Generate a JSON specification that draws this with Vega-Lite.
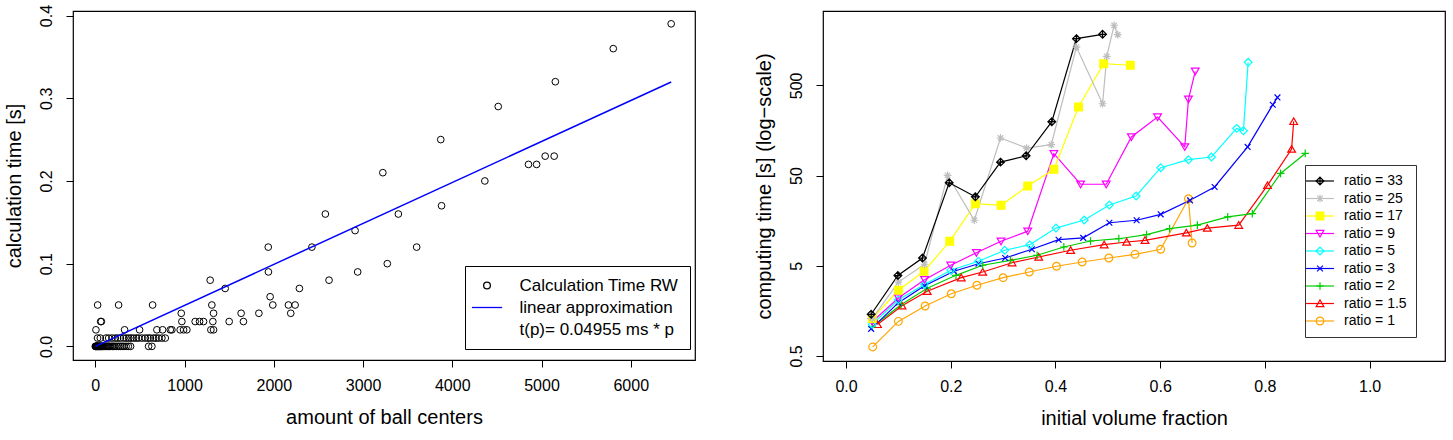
{
  "$schema": "https://vega.github.io/schema/vega-lite/v6.json",
  "padding": {"left": 3, "top": 3, "right": 9, "bottom": 0},
  "background": "white",
  "bounds": "flush",
  "spacing": 128,
  "config": {
    "font": "Liberation Sans",
    "view": {"stroke": "#000", "strokeWidth": 1.2},
    "axis": {"domain": false, "grid": false, "ticks": true, "tickColor": "#000", "tickSize": 7, "tickWidth": 1,
      "labelFont": "Liberation Sans", "labelFontSize": 16, "labelColor": "#000",
      "titleFont": "Liberation Sans", "titleFontSize": 20, "titleFontWeight": "normal", "titleColor": "#000",
      "labelPadding": 10, "titlePadding": 14},
    "axisY": {"labelAngle": 270, "labelPadding": 12},
    "legend": {"labelFont": "Liberation Sans"}
  },
  "datasets": {
    "calc": [
      {"p":0,"t":0},{"p":4,"t":0},{"p":8,"t":0},{"p":12,"t":0},{"p":16,"t":0},{"p":20,"t":0},{"p":25,"t":0},{"p":30,"t":0},{"p":35,"t":0},{"p":40,"t":0},{"p":45,"t":0},{"p":50,"t":0},{"p":55,"t":0},{"p":60,"t":0},{"p":65,"t":0},{"p":70,"t":0},{"p":80,"t":0},{"p":90,"t":0},{"p":100,"t":0},{"p":110,"t":0},{"p":120,"t":0},{"p":130,"t":0},{"p":140,"t":0},{"p":150,"t":0},{"p":160,"t":0},{"p":175,"t":0},{"p":190,"t":0},{"p":205,"t":0},{"p":220,"t":0},{"p":240,"t":0},{"p":260,"t":0},{"p":280,"t":0},{"p":300,"t":0},{"p":320,"t":0},{"p":345,"t":0},{"p":370,"t":0},{"p":395,"t":0},{"p":597,"t":0},{"p":634,"t":0},
      {"p":25,"t":0.01},{"p":56,"t":0.01},{"p":120,"t":0.01},{"p":150,"t":0.01},{"p":187,"t":0.01},{"p":224,"t":0.01},{"p":250,"t":0.01},{"p":280,"t":0.01},{"p":317,"t":0.01},{"p":345,"t":0.01},{"p":373,"t":0.01},{"p":400,"t":0.01},{"p":429,"t":0.01},{"p":460,"t":0.01},{"p":485,"t":0.01},{"p":522,"t":0.01},{"p":560,"t":0.01},{"p":590,"t":0.01},{"p":616,"t":0.01},{"p":653,"t":0.01},{"p":680,"t":0.01},{"p":709,"t":0.01},{"p":746,"t":0.01},{"p":784,"t":0.01},
      {"p":7,"t":0.02},{"p":328,"t":0.02},{"p":496,"t":0.02},{"p":690,"t":0.02},{"p":754,"t":0.02},{"p":840,"t":0.02},{"p":858,"t":0.02},{"p":951,"t":0.02},{"p":989,"t":0.02},{"p":1026,"t":0.02},{"p":1295,"t":0.02},{"p":1325,"t":0.02},
      {"p":60,"t":0.03},{"p":68,"t":0.03},{"p":970,"t":0.03},{"p":1119,"t":0.03},{"p":1168,"t":0.03},{"p":1213,"t":0.03},{"p":1317,"t":0.03},{"p":1500,"t":0.03},{"p":1660,"t":0.03},
      {"p":963,"t":0.04},{"p":1325,"t":0.04},{"p":1634,"t":0.04},{"p":1833,"t":0.04},{"p":2190,"t":0.04},
      {"p":26,"t":0.05},{"p":261,"t":0.05},{"p":642,"t":0.05},{"p":1306,"t":0.05},{"p":1989,"t":0.05},{"p":2164,"t":0.05},{"p":2239,"t":0.05},
      {"p":1959,"t":0.06},{"p":1455,"t":0.07},{"p":2287,"t":0.07},{"p":1287,"t":0.08},{"p":2619,"t":0.08},{"p":1940,"t":0.09},{"p":2940,"t":0.09},{"p":3272,"t":0.10},
      {"p":1938,"t":0.12},{"p":2427,"t":0.12},{"p":3601,"t":0.12},{"p":2911,"t":0.14},{"p":2578,"t":0.16},{"p":3396,"t":0.16},{"p":3880,"t":0.17},{"p":4365,"t":0.20},{"p":3222,"t":0.21},
      {"p":4854,"t":0.22},{"p":4945,"t":0.22},{"p":5041,"t":0.23},{"p":5142,"t":0.23},{"p":3871,"t":0.25},{"p":4515,"t":0.29},{"p":5155,"t":0.32},{"p":5804,"t":0.36},{"p":6453,"t":0.39}
    ],
    "fit": [{"p":0,"t":0},{"p":6453,"t":0.3197}],
    "comp": [
      {"ratio":"ratio = 1","f":0.051,"t":0.63},{"ratio":"ratio = 1","f":0.100,"t":1.21},{"ratio":"ratio = 1","f":0.151,"t":1.79},{"ratio":"ratio = 1","f":0.201,"t":2.45},{"ratio":"ratio = 1","f":0.250,"t":3.04},{"ratio":"ratio = 1","f":0.300,"t":3.69},{"ratio":"ratio = 1","f":0.350,"t":4.27},{"ratio":"ratio = 1","f":0.402,"t":4.94},{"ratio":"ratio = 1","f":0.451,"t":5.51},{"ratio":"ratio = 1","f":0.502,"t":6.10},{"ratio":"ratio = 1","f":0.552,"t":6.70},{"ratio":"ratio = 1","f":0.601,"t":7.62},{"ratio":"ratio = 1","f":0.654,"t":27.7},{"ratio":"ratio = 1","f":0.661,"t":8.95},
      {"ratio":"ratio = 1.5","f":0.060,"t":1.12},{"ratio":"ratio = 1.5","f":0.107,"t":1.80},{"ratio":"ratio = 1.5","f":0.155,"t":2.61},{"ratio":"ratio = 1.5","f":0.220,"t":3.69},{"ratio":"ratio = 1.5","f":0.261,"t":4.27},{"ratio":"ratio = 1.5","f":0.317,"t":5.41},{"ratio":"ratio = 1.5","f":0.368,"t":6.26},{"ratio":"ratio = 1.5","f":0.429,"t":7.43},{"ratio":"ratio = 1.5","f":0.493,"t":8.57},{"ratio":"ratio = 1.5","f":0.536,"t":9.18},{"ratio":"ratio = 1.5","f":0.571,"t":9.59},{"ratio":"ratio = 1.5","f":0.650,"t":11.6},{"ratio":"ratio = 1.5","f":0.690,"t":13.1},{"ratio":"ratio = 1.5","f":0.750,"t":14.1},{"ratio":"ratio = 1.5","f":0.805,"t":39.0},{"ratio":"ratio = 1.5","f":0.851,"t":98.4},{"ratio":"ratio = 1.5","f":0.855,"t":199.5},
      {"ratio":"ratio = 2","f":0.050,"t":1.05},{"ratio":"ratio = 2","f":0.105,"t":1.85},{"ratio":"ratio = 2","f":0.155,"t":2.82},{"ratio":"ratio = 2","f":0.210,"t":3.92},{"ratio":"ratio = 2","f":0.261,"t":5.07},{"ratio":"ratio = 2","f":0.314,"t":5.75},{"ratio":"ratio = 2","f":0.365,"t":6.54},{"ratio":"ratio = 2","f":0.416,"t":8.08},{"ratio":"ratio = 2","f":0.467,"t":9.41},{"ratio":"ratio = 2","f":0.521,"t":9.98},{"ratio":"ratio = 2","f":0.574,"t":11.1},{"ratio":"ratio = 2","f":0.618,"t":12.9},{"ratio":"ratio = 2","f":0.671,"t":14.1},{"ratio":"ratio = 2","f":0.729,"t":17.4},{"ratio":"ratio = 2","f":0.776,"t":18.9},{"ratio":"ratio = 2","f":0.830,"t":52.8},{"ratio":"ratio = 2","f":0.877,"t":88},
      {"ratio":"ratio = 3","f":0.048,"t":1.00},{"ratio":"ratio = 3","f":0.100,"t":1.95},{"ratio":"ratio = 3","f":0.150,"t":3.00},{"ratio":"ratio = 3","f":0.206,"t":4.35},{"ratio":"ratio = 3","f":0.253,"t":5.27},{"ratio":"ratio = 3","f":0.304,"t":6.10},{"ratio":"ratio = 3","f":0.355,"t":7.62},{"ratio":"ratio = 3","f":0.406,"t":9.73},{"ratio":"ratio = 3","f":0.453,"t":10.2},{"ratio":"ratio = 3","f":0.503,"t":15.0},{"ratio":"ratio = 3","f":0.555,"t":16.0},{"ratio":"ratio = 3","f":0.601,"t":18.6},{"ratio":"ratio = 3","f":0.657,"t":26.6},{"ratio":"ratio = 3","f":0.704,"t":37.4},{"ratio":"ratio = 3","f":0.767,"t":104},{"ratio":"ratio = 3","f":0.815,"t":305},{"ratio":"ratio = 3","f":0.824,"t":368},
      {"ratio":"ratio = 5","f":0.050,"t":1.12},{"ratio":"ratio = 5","f":0.100,"t":2.1},{"ratio":"ratio = 5","f":0.150,"t":3.1},{"ratio":"ratio = 5","f":0.200,"t":4.47},{"ratio":"ratio = 5","f":0.253,"t":5.61},{"ratio":"ratio = 5","f":0.303,"t":7.43},{"ratio":"ratio = 5","f":0.351,"t":8.57},{"ratio":"ratio = 5","f":0.401,"t":13.1},{"ratio":"ratio = 5","f":0.455,"t":16.1},{"ratio":"ratio = 5","f":0.503,"t":23.6},{"ratio":"ratio = 5","f":0.554,"t":29.7},{"ratio":"ratio = 5","f":0.601,"t":61.2},{"ratio":"ratio = 5","f":0.654,"t":75},{"ratio":"ratio = 5","f":0.698,"t":80.4},{"ratio":"ratio = 5","f":0.746,"t":167},{"ratio":"ratio = 5","f":0.759,"t":157},{"ratio":"ratio = 5","f":0.768,"t":901},
      {"ratio":"ratio = 9","f":0.050,"t":1.2},{"ratio":"ratio = 9","f":0.100,"t":2.20},{"ratio":"ratio = 9","f":0.150,"t":3.51},{"ratio":"ratio = 9","f":0.200,"t":5.07},{"ratio":"ratio = 9","f":0.249,"t":6.98},{"ratio":"ratio = 9","f":0.296,"t":9.35},{"ratio":"ratio = 9","f":0.347,"t":12.1},{"ratio":"ratio = 9","f":0.397,"t":87.5},{"ratio":"ratio = 9","f":0.448,"t":40.1},{"ratio":"ratio = 9","f":0.497,"t":40.1},{"ratio":"ratio = 9","f":0.545,"t":134},{"ratio":"ratio = 9","f":0.595,"t":223},{"ratio":"ratio = 9","f":0.647,"t":104},{"ratio":"ratio = 9","f":0.654,"t":351},{"ratio":"ratio = 9","f":0.667,"t":717},
      {"ratio":"ratio = 17","f":0.050,"t":1.3},{"ratio":"ratio = 17","f":0.100,"t":2.68},{"ratio":"ratio = 17","f":0.149,"t":4.35},{"ratio":"ratio = 17","f":0.198,"t":9.35},{"ratio":"ratio = 17","f":0.247,"t":24.4},{"ratio":"ratio = 17","f":0.296,"t":23.4},{"ratio":"ratio = 17","f":0.347,"t":38.3},{"ratio":"ratio = 17","f":0.397,"t":58.7},{"ratio":"ratio = 17","f":0.444,"t":288},{"ratio":"ratio = 17","f":0.492,"t":870},{"ratio":"ratio = 17","f":0.543,"t":836},
      {"ratio":"ratio = 25","f":0.050,"t":1.3},{"ratio":"ratio = 25","f":0.100,"t":3.3},{"ratio":"ratio = 25","f":0.150,"t":5.2},{"ratio":"ratio = 25","f":0.194,"t":50.4},{"ratio":"ratio = 25","f":0.245,"t":16.0},{"ratio":"ratio = 25","f":0.295,"t":130.6},{"ratio":"ratio = 25","f":0.345,"t":101},{"ratio":"ratio = 25","f":0.392,"t":110},{"ratio":"ratio = 25","f":0.440,"t":1330},{"ratio":"ratio = 25","f":0.490,"t":313},{"ratio":"ratio = 25","f":0.498,"t":1051},{"ratio":"ratio = 25","f":0.512,"t":2320},{"ratio":"ratio = 25","f":0.519,"t":1824},
      {"ratio":"ratio = 33","f":0.048,"t":1.45},{"ratio":"ratio = 33","f":0.099,"t":3.9},{"ratio":"ratio = 33","f":0.146,"t":6.1},{"ratio":"ratio = 33","f":0.197,"t":41.6},{"ratio":"ratio = 33","f":0.247,"t":29.1},{"ratio":"ratio = 33","f":0.295,"t":70.5},{"ratio":"ratio = 33","f":0.344,"t":82.9},{"ratio":"ratio = 33","f":0.393,"t":197.8},{"ratio":"ratio = 33","f":0.440,"t":1649},{"ratio":"ratio = 33","f":0.490,"t":1842}
    ]
  },
  "hconcat": [
    {
      "width": 622, "height": 349,
      "layer": [
        {
          "data": {"name": "calc"},
          "mark": {"type": "point", "filled": false, "size": 45, "strokeWidth": 1, "opacity": 1},
          "encoding": {
            "x": {"field": "p", "type": "quantitative", "scale": {"domain": [-250, 6720], "nice": false, "zero": false},
              "axis": {"title": "amount of ball centers", "values": [0,1000,2000,3000,4000,5000,6000], "format": "d"}},
            "y": {"field": "t", "type": "quantitative", "scale": {"domain": [-0.0165, 0.4055], "nice": false, "zero": false},
              "axis": {"title": "calculation time [s]", "values": [0,0.1,0.2,0.3,0.4], "format": ".1f"}},
            "color": {"datum": "Calculation Time RW", "type": "nominal",
              "scale": {"domain": ["Calculation Time RW", "linear approximation", "t(p)= 0.04955 ms * p"], "range": ["#000000", "#0000FF", "#000000"]},
              "legend": {"title": null, "orient": "none", "legendX": 392, "legendY": 255, "strokeColor": "#000", "padding": 11,
                "labelFontSize": 17, "labelColor": "#000", "symbolSize": 45, "symbolStrokeWidth": 1.3, "rowPadding": 4, "symbolOffset": 2.5, "labelOffset": 24}},
            "shape": {"datum": "Calculation Time RW", "type": "nominal",
              "scale": {"domain": ["Calculation Time RW", "linear approximation", "t(p)= 0.04955 ms * p"], "range": ["circle", "M-4.5,0L4.5,0", "M0,0"]},
              "legend": {"title": null, "orient": "none", "legendX": 392, "legendY": 255, "strokeColor": "#000", "padding": 11,
                "labelFontSize": 17, "labelColor": "#000", "symbolSize": 45, "symbolStrokeWidth": 1.3, "rowPadding": 4, "symbolOffset": 2.5, "labelOffset": 24}}
          }
        },
        {
          "data": {"name": "fit"},
          "mark": {"type": "line", "strokeWidth": 1.5},
          "encoding": {
            "x": {"field": "p", "type": "quantitative"},
            "y": {"field": "t", "type": "quantitative"},
            "color": {"datum": "linear approximation", "type": "nominal"}
          }
        }
      ]
    },
    {
      "width": 622, "height": 350,
      "data": {"name": "comp"},
      "encoding": {
        "x": {"field": "f", "type": "quantitative", "scale": {"domain": [-0.044, 1.144], "nice": false, "zero": false},
          "axis": {"title": "initial volume fraction", "values": [0,0.2,0.4,0.6,0.8,1.0], "format": ".1f"}},
        "y": {"field": "t", "type": "quantitative", "scale": {"type": "log", "domain": [0.44, 3340], "nice": false},
          "axis": {"title": "computing time [s] (log−scale)", "values": [0.5,5,50,500], "format": "~g"}}
      },
      "layer": [
        {
          "mark": {"type": "line", "strokeWidth": 1.2},
          "encoding": {
            "color": {"field": "ratio", "type": "nominal",
              "scale": {"domain": ["ratio = 1","ratio = 1.5","ratio = 2","ratio = 3","ratio = 5","ratio = 9","ratio = 17","ratio = 25","ratio = 33"],
                "range": ["#FFA500","#FF0000","#00CD00","#0000FF","#00FFFF","#FF00FF","#FFFF00","#BEBEBE","#000000"]},
              "legend": {"title": null, "orient": "none", "legendX": 482, "legendY": 154, "strokeColor": "#333", "padding": 9,
                "values": ["ratio = 33","ratio = 25","ratio = 17","ratio = 9","ratio = 5","ratio = 3","ratio = 2","ratio = 1.5","ratio = 1"],
                "labelFontSize": 14, "labelColor": "#000", "symbolType": "M-3.6,0L3.6,0", "symbolSize": 60, "symbolStrokeWidth": 1.2,
                "rowPadding": 3.5, "symbolOffset": -1, "labelOffset": 17}}
          }
        },
        {
          "mark": {"type": "point", "filled": true, "size": 60, "strokeWidth": 1.2, "opacity": 1},
          "encoding": {
            "stroke": {"field": "ratio", "type": "nominal",
              "scale": {"domain": ["ratio = 33","ratio = 25","ratio = 17","ratio = 9","ratio = 5","ratio = 3","ratio = 2","ratio = 1.5","ratio = 1"],
                "range": ["#000000","#BEBEBE","#FFFF00","#FF00FF","#00FFFF","#0000FF","#00CD00","#FF0000","#FFA500"]},
              "legend": {"title": null, "orient": "none", "legendX": 482, "legendY": 154, "padding": 9,
                "labelFontSize": 14, "labelColor": "transparent", "symbolSize": 60, "symbolStrokeWidth": 1.2,
                "rowPadding": 3.5, "symbolOffset": -1, "labelOffset": 17}},
            "shape": {"field": "ratio", "type": "nominal",
              "scale": {"domain": ["ratio = 33","ratio = 25","ratio = 17","ratio = 9","ratio = 5","ratio = 3","ratio = 2","ratio = 1.5","ratio = 1"],
                "range": ["M0,-1L1,0L0,1L-1,0ZM-1,0L1,0M0,-1L0,1", "M-1,0L1,0M0,-1L0,1M-0.7,-0.7L0.7,0.7M-0.7,0.7L0.7,-0.7", "square", "M-1,-0.8L1,-0.8L0,0.9Z", "M0,-1L1,0L0,1L-1,0Z", "M-0.75,-0.75L0.75,0.75M-0.75,0.75L0.75,-0.75", "M-1,0L1,0M0,-1L0,1", "M-1,0.8L1,0.8L0,-0.9Z", "circle"]},
              "legend": {"title": null, "orient": "none", "legendX": 482, "legendY": 154, "padding": 9,
                "labelFontSize": 14, "labelColor": "transparent", "symbolSize": 60, "symbolStrokeWidth": 1.2,
                "rowPadding": 3.5, "symbolOffset": -1, "labelOffset": 17}},
            "fill": {"field": "ratio", "type": "nominal",
              "scale": {"domain": ["ratio = 33","ratio = 25","ratio = 17","ratio = 9","ratio = 5","ratio = 3","ratio = 2","ratio = 1.5","ratio = 1"],
                "range": ["transparent","transparent","#FFFF00","transparent","transparent","transparent","transparent","transparent","transparent"]},
              "legend": {"title": null, "orient": "none", "legendX": 482, "legendY": 154, "padding": 9,
                "labelFontSize": 14, "labelColor": "transparent", "symbolSize": 60, "symbolStrokeWidth": 1.2,
                "rowPadding": 3.5, "symbolOffset": -1, "labelOffset": 17}}
          }
        }
      ]
    }
  ],
  "resolve": {"scale": {"color": "independent", "shape": "independent", "stroke": "independent", "fill": "independent"},
    "legend": {"color": "independent", "shape": "independent", "stroke": "independent", "fill": "independent"}}
}
